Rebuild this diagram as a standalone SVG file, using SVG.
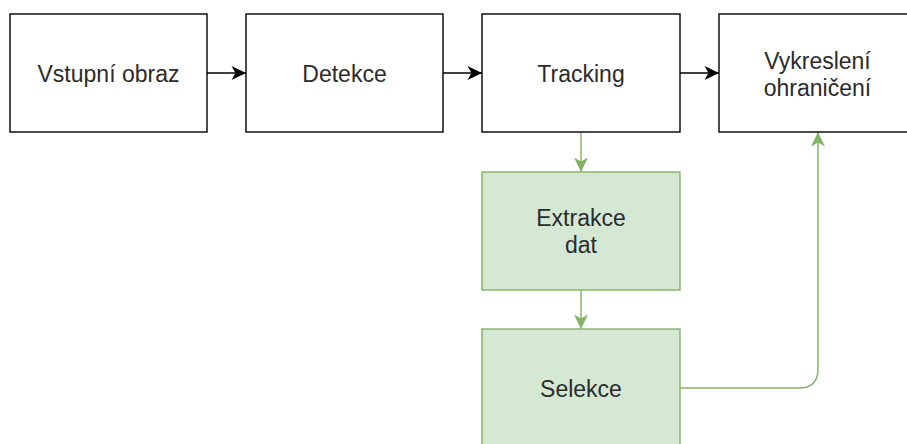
<svg xmlns="http://www.w3.org/2000/svg" width="907" height="444" viewBox="0 0 907 444">
  <style>
    .box { fill: #ffffff; stroke: #000000; stroke-width: 1.4; }
    .gbox { fill: #d5e8d4; stroke: #82b366; stroke-width: 1.4; }
    .lbl { font-family: "Liberation Sans", Arial, sans-serif; font-size: 23px; fill: #2b2b2b; text-anchor: middle; }
    .edge { fill: none; stroke: #000000; stroke-width: 1.4; }
    .gedge { fill: none; stroke: #82b366; stroke-width: 1.4; }
  </style>
  <defs>
    <marker id="arrow" markerUnits="userSpaceOnUse" viewBox="-16 -8 18 16" refX="0" refY="0" markerWidth="18" markerHeight="16" orient="auto">
      <path d="M0,0 L-14.5,-7 L-10.5,0 L-14.5,7 Z" fill="#000000"/>
    </marker>
    <marker id="garrow" markerUnits="userSpaceOnUse" viewBox="-16 -8 18 16" refX="0" refY="0" markerWidth="18" markerHeight="16" orient="auto">
      <path d="M0,0 L-14.5,-7 L-10.5,0 L-14.5,7 Z" fill="#82b366"/>
    </marker>
  </defs>

  <g id="connectors">
    <path class="edge" d="M207,73 L246,73" marker-end="url(#arrow)"/>
    <path class="edge" d="M443,73 L482,73" marker-end="url(#arrow)"/>
    <path class="edge" d="M680,73 L719,73" marker-end="url(#arrow)"/>
    <path class="gedge" d="M581,132 L581,172" marker-end="url(#garrow)"/>
    <path class="gedge" d="M581,290 L581,329" marker-end="url(#garrow)"/>
    <path class="gedge" d="M680,388 L799,388 Q818,388 818,369 L818,132" marker-end="url(#garrow)"/>
  </g>

  <g id="node-vstup">
    <rect class="box" x="10" y="14" width="197" height="118"/>
    <text class="lbl" x="108.5" y="81.5">Vstupní obraz</text>
  </g>
  <g id="node-detekce">
    <rect class="box" x="246" y="14" width="197" height="118"/>
    <text class="lbl" x="344.5" y="81.5">Detekce</text>
  </g>
  <g id="node-tracking">
    <rect class="box" x="482" y="14" width="198" height="118"/>
    <text class="lbl" x="581" y="81.5">Tracking</text>
  </g>
  <g id="node-vykresleni">
    <rect class="box" x="719" y="14" width="197" height="118"/>
    <text class="lbl" x="817.5" y="68.5">Vykreslení</text>
    <text class="lbl" x="817.5" y="95.5">ohraničení</text>
  </g>
  <g id="node-extrakce">
    <rect class="gbox" x="482" y="172" width="198" height="118"/>
    <text class="lbl" x="581" y="225.5">Extrakce</text>
    <text class="lbl" x="581" y="252.5">dat</text>
  </g>
  <g id="node-selekce">
    <rect class="gbox" x="482" y="329" width="198" height="118"/>
    <text class="lbl" x="581" y="396.5">Selekce</text>
  </g>
</svg>
